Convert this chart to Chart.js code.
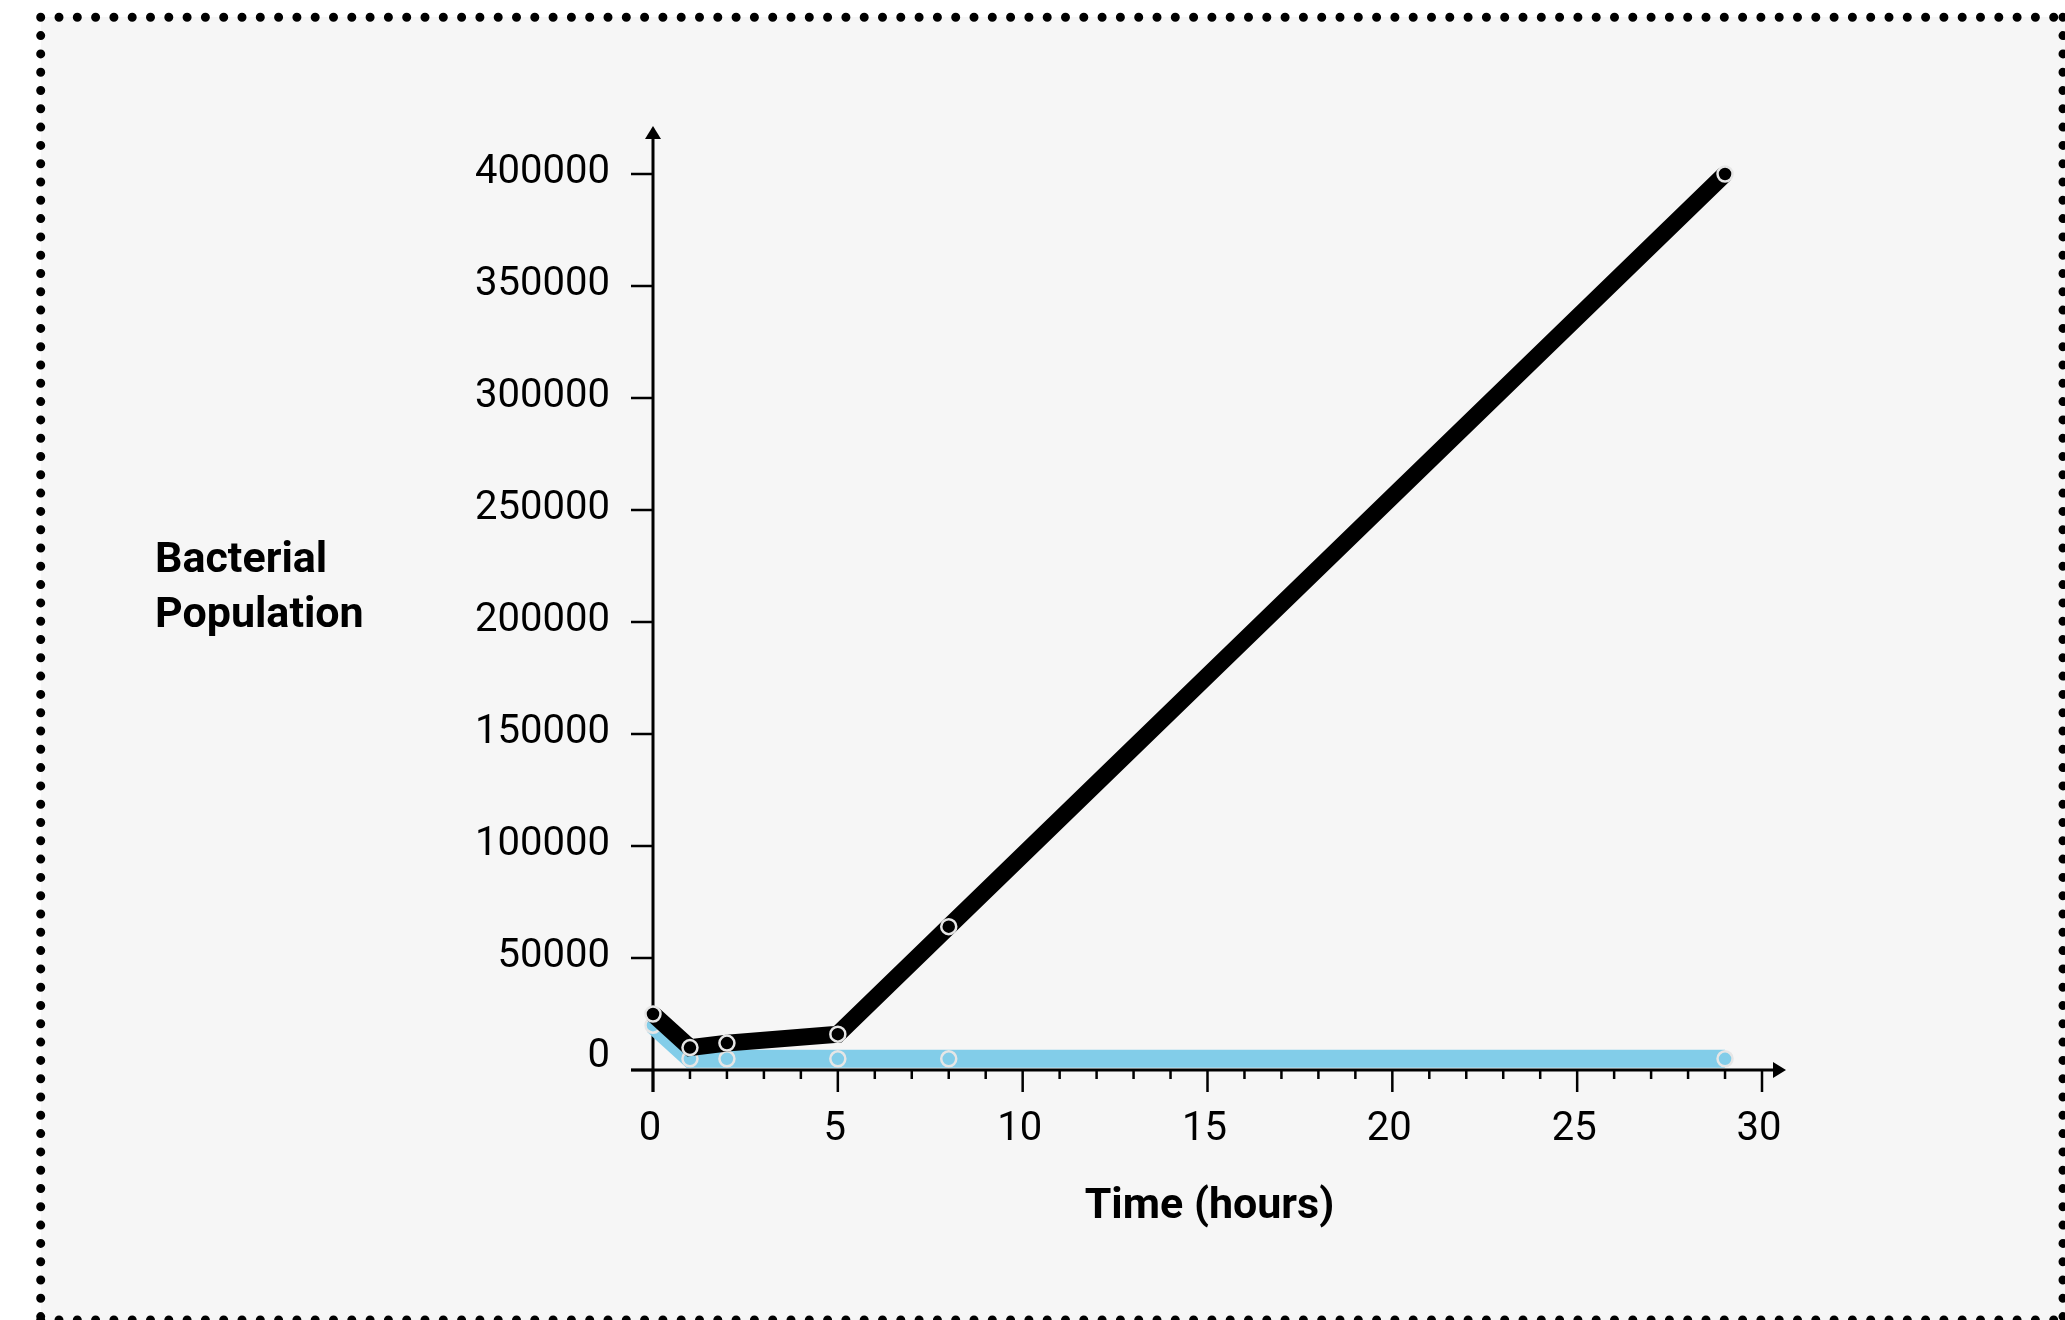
<!DOCTYPE html>
<html>
<head>
<meta charset="utf-8">
<script src="https://cdn.jsdelivr.net/npm/chart.js@4"></script>
<style>
  html, body { margin: 0; padding: 0; background: #fff; overflow: hidden; }
  canvas { display: block; }
</style>
</head>
<body>
<canvas id="chart" width="2065" height="1320"></canvas>
<script>
const hours = [0, 1, 2, 5, 8, 29];
const blackSeries = [25000, 10000, 12000, 16000, 64000, 400000];
const blueSeries = [20000, 5000, 5000, 5000, 5000, 5000];
const xTicks = [0, 5, 10, 15, 20, 25, 30];
const xMinorTicks = Array.from({ length: 31 }, (_, i) => i);
const yTicks = [0, 50000, 100000, 150000, 200000, 250000, 300000, 350000, 400000];
const xTitle = "Time (hours)";
const yTitle = ["Bacterial", "Population"];

const toPoints = (vals) => hours.map((h, i) => ({ x: h, y: vals[i] }));

// page frame: light panel with round dotted border
const framePlugin = {
    id: "frame",
    beforeDraw(chart) {
        const ctx = chart.ctx;
        const w = chart.width, h = chart.height;
        ctx.save();
        ctx.fillStyle = "#ffffff";
        ctx.fillRect(0, 0, w, h);
        ctx.fillStyle = "#f6f6f6";
        ctx.fillRect(41, 17, w - 41, h - 17);
        ctx.strokeStyle = "#000";
        ctx.lineWidth = 9;
        ctx.lineCap = "round";
        ctx.setLineDash([0, 18.3]);
        ctx.beginPath();
        ctx.moveTo(40.7, 17.3); ctx.lineTo(w + 10, 17.3);
        ctx.moveTo(40.7, 17.3); ctx.lineTo(40.7, h + 10);
        ctx.moveTo(2063, 17.3); ctx.lineTo(2063, h + 10);
        ctx.moveTo(40.7, 1320); ctx.lineTo(w + 10, 1320);
        ctx.stroke();
        ctx.restore();
    }
};

// axes with arrows, ticks and labels
const axesPlugin = {
    id: "axes",
    beforeDatasetsDraw(chart) {
        const ctx = chart.ctx;
        const xs = chart.scales.x, ys = chart.scales.y;
        const x0 = xs.getPixelForValue(0);
        const y0 = ys.getPixelForValue(0);
        ctx.save();
        ctx.strokeStyle = "#000";
        ctx.fillStyle = "#000";
        ctx.lineWidth = 3;

        // y axis + arrow
        ctx.beginPath();
        ctx.moveTo(x0, y0 + 22);
        ctx.lineTo(x0, 136);
        ctx.stroke();
        ctx.beginPath();
        ctx.moveTo(x0, 126);
        ctx.lineTo(x0 - 8, 139);
        ctx.lineTo(x0 + 8, 139);
        ctx.closePath();
        ctx.fill();

        // x axis + arrow
        const xEnd = 1786;
        ctx.beginPath();
        ctx.moveTo(x0 - 22, y0);
        ctx.lineTo(xEnd - 10, y0);
        ctx.stroke();
        ctx.beginPath();
        ctx.moveTo(xEnd, y0);
        ctx.lineTo(xEnd - 13, y0 - 8);
        ctx.lineTo(xEnd - 13, y0 + 8);
        ctx.closePath();
        ctx.fill();

        // x ticks
        ctx.lineWidth = 2.5;
        ctx.beginPath();
        xMinorTicks.forEach(v => {
            const px = xs.getPixelForValue(v);
            const len = v % 5 === 0 ? 22 : 9;
            ctx.moveTo(px, y0);
            ctx.lineTo(px, y0 + len);
        });
        // y ticks
        yTicks.forEach(v => {
            const py = ys.getPixelForValue(v);
            ctx.moveTo(x0 - 22, py);
            ctx.lineTo(x0, py);
        });
        ctx.stroke();

        // tick labels
        ctx.font = "400 40px Roboto";
        ctx.textBaseline = "middle";
        ctx.textAlign = "right";
        yTicks.forEach(v => {
            const py = ys.getPixelForValue(v);
            ctx.fillText(String(v), x0 - 43, v === 0 ? py - 13 : py - 1);
        });
        ctx.textAlign = "center";
        xTicks.forEach(v => {
            const px = xs.getPixelForValue(v);
            ctx.fillText(String(v), px - 3, y0 + 60);
        });

        // titles
        ctx.font = "700 43px Roboto";
        ctx.fillText(xTitle, (xs.left + xs.right) / 2 + 2, 1207);
        ctx.textAlign = "left";
        ctx.fillText(yTitle[0], 155, 561);
        ctx.fillText(yTitle[1], 155, 616);
        ctx.restore();
    }
};

new Chart(document.getElementById("chart"), {
    type: "line",
    data: {
        datasets: [
            {
                label: "black",
                data: toPoints(blackSeries),
                borderColor: "#000000",
                borderWidth: 17,
                pointRadius: 7.5,
                pointBackgroundColor: "#000000",
                pointBorderColor: "#e6e6e6",
                pointBorderWidth: 2.5,
                clip: false,
                order: 0
            },
            {
                label: "blue",
                data: toPoints(blueSeries),
                borderColor: "#82cde9",
                borderWidth: 18,
                pointRadius: 7.5,
                pointBackgroundColor: "#82cde9",
                pointBorderColor: "#e6e6e6",
                pointBorderWidth: 2.5,
                clip: false,
                order: 1
            }
        ]
    },
    options: {
        responsive: false,
        maintainAspectRatio: false,
        animation: false,
        layout: { padding: { left: 653, right: 303, top: 174, bottom: 250 } },
        plugins: { legend: { display: false }, tooltip: { enabled: false } },
        scales: {
            x: { type: "linear", min: 0, max: 30, display: false },
            y: { type: "linear", min: 0, max: 400000, display: false }
        }
    },
    plugins: [framePlugin, axesPlugin]
});
</script>
</body>
</html>
